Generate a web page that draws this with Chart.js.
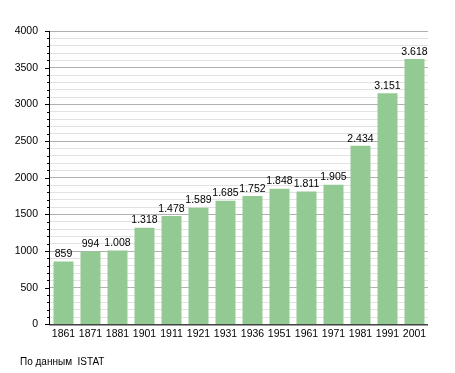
<!DOCTYPE html>
<html><head><meta charset="utf-8">
<script src="https://cdn.jsdelivr.net/npm/chart.js@4/dist/chart.umd.min.js"></script>
<style>html,body{margin:0;padding:0;background:#fff;}#wrap{position:relative;width:455px;height:373px;}
#note{position:absolute;left:20px;top:356px;font:10px "Liberation Sans",Arial,sans-serif;color:#000;}</style>
</head><body><div id="wrap"><canvas id="c" width="455" height="373"></canvas><div id="note">По данным&nbsp; ISTAT</div></div>
<script>
const years = ["1861","1871","1881","1901","1911","1921","1931","1936","1951","1961","1971","1981","1991","2001"];
const population = [859,994,1008,1318,1478,1589,1685,1752,1848,1811,1905,2434,3151,3618];
const yMax = 4000;
const fmt = v => String(v).replace(/\B(?=(\d{3})+(?!\d))/g, ".");
const FONT = '"Liberation Sans", Arial, sans-serif';
const labelsPlugin = {
  id:'labels',
  afterDatasetsDraw(chart){
    const ctx = chart.ctx; const meta = chart.getDatasetMeta(0);
    ctx.save(); ctx.font = '10.5px ' + FONT; ctx.fillStyle = '#000'; ctx.textAlign='center'; ctx.textBaseline='bottom';
    meta.data.forEach((b,i)=>{ ctx.fillText(fmt(population[i]), b.x, b.y - 2); });
    ctx.restore();
  }
};
const ticksPlugin = {
  id:'ticks',
  afterDraw(chart){
    const ctx = chart.ctx; const y = chart.scales.y; const a = chart.chartArea;
    ctx.save(); ctx.strokeStyle='#000'; ctx.lineWidth=1;
    for(let v=0; v<=yMax; v+=100){
      const py = Math.round(y.getPixelForValue(v)) + 0.5;
      const len = v % 500 === 0 ? 5 : 3;
      ctx.beginPath(); ctx.moveTo(a.left - len, py); ctx.lineTo(a.left, py); ctx.stroke();
    }
    ctx.beginPath(); ctx.moveTo(a.left - 0.5, a.top); ctx.lineTo(a.left - 0.5, a.bottom + 0.5); ctx.lineTo(a.right, a.bottom + 0.5); ctx.stroke();
    ctx.restore();
  }
};
new Chart(document.getElementById('c'), {
  type:'bar',
  data:{ labels: years, datasets:[{ data: population, backgroundColor:'#93ca93', borderWidth:0, barPercentage:0.74, categoryPercentage:1 }]},
  options:{
    responsive:false, animation:false,
    layout:{ padding:{ left:0, right:27, top:31, bottom:30 } },
    plugins:{ legend:{display:false}, tooltip:{enabled:false} },
    scales:{
      x:{ grid:{ display:false, drawTicks:false }, border:{display:false},
          ticks:{ color:'#000', font:{ size:10.5, family:FONT }, padding:3, maxRotation:0, autoSkip:false } },
      y:{ min:0, max:yMax, afterFit(s){ s.width = 50; },
          grid:{ drawTicks:false, color: c => c.tick && c.tick.value % 500 === 0 ? '#b0b0b0' : '#e2e2e2' },
          border:{display:false},
          ticks:{ stepSize:100, autoSkip:false, color:'#000', font:{ size:10.5, family:FONT }, padding:12,
                  callback: v => v % 500 === 0 ? v : '' } }
    }
  },
  plugins:[labelsPlugin, ticksPlugin]
});
</script></body></html>
